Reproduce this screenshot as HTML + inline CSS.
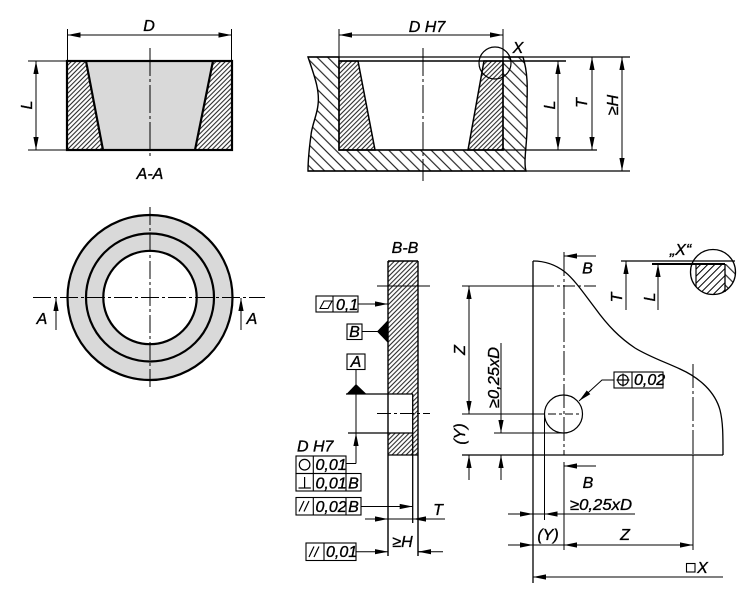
<!DOCTYPE html>
<html><head><meta charset="utf-8"><style>
html,body{margin:0;padding:0;background:#fff;}
svg{display:block;}
text{font-family:"Liberation Sans",sans-serif;font-style:italic;font-size:16px;fill:#000;stroke:#000;stroke-width:0.35px;}
</style></head><body>
<svg width="750" height="597" viewBox="0 0 750 597" xmlns="http://www.w3.org/2000/svg">
<defs>
<marker id="a" markerUnits="userSpaceOnUse" markerWidth="14" markerHeight="6" refX="13" refY="3" orient="auto-start-reverse"><path d="M0,0.4 L13,3 L0,5.6 z" fill="#000"/></marker>
<pattern id="hf" width="3.3" height="10" patternUnits="userSpaceOnUse" patternTransform="rotate(45)"><line x1="1.6" y1="0" x2="1.6" y2="10" stroke="#000" stroke-width="0.9"/></pattern>
<pattern id="hd" width="5" height="10" patternUnits="userSpaceOnUse" patternTransform="rotate(45)"><line x1="2.5" y1="0" x2="2.5" y2="10" stroke="#000" stroke-width="1"/></pattern>
<pattern id="hc" width="7.5" height="10" patternUnits="userSpaceOnUse" patternTransform="rotate(-45)"><line x1="3.7" y1="0" x2="3.7" y2="10" stroke="#000" stroke-width="1"/></pattern>
<clipPath id="cx"><circle cx="713" cy="272" r="22.5"/></clipPath>
</defs>
<g fill="none" stroke="#000" stroke-width="1.2">

<!-- ===== A-A section ===== -->
<polygon points="86,61 213,61 195,150 103,150" fill="#d9d9d9" stroke="none"/>
<polygon points="67,61 86,61 103,150 67,150" fill="url(#hf)" stroke="none"/>
<polygon points="213,61 232,61 232,150 195,150" fill="url(#hf)" stroke="none"/>
<rect x="67" y="61" width="165" height="89" stroke-width="2.2"/>
<line x1="86" y1="61" x2="103" y2="150" stroke-width="2.2"/>
<line x1="213" y1="61" x2="195" y2="150" stroke-width="2.2"/>
<line x1="150" y1="48" x2="150" y2="158" stroke-dasharray="28 3 3 3" stroke-width="1"/>
<line x1="67.5" y1="29" x2="67.5" y2="61" stroke-width="1"/>
<line x1="231.5" y1="29" x2="231.5" y2="61" stroke-width="1"/>
<path d="M67.5,35 H231.5" marker-start="url(#a)" marker-end="url(#a)" stroke-width="1"/>
<line x1="28" y1="61" x2="67" y2="61" stroke-width="1"/>
<line x1="28" y1="150" x2="67" y2="150" stroke-width="1"/>
<path d="M36,61 V150" marker-start="url(#a)" marker-end="url(#a)" stroke-width="1"/>

<!-- ===== circle view ===== -->
<circle cx="150" cy="297.5" r="82.5" fill="#d9d9d9" stroke-width="2.2"/>
<circle cx="150" cy="297.5" r="64" stroke-width="2.2"/>
<circle cx="150" cy="297.5" r="46.7" fill="#fff" stroke-width="2.2"/>
<line x1="33" y1="297.5" x2="265" y2="297.5" stroke-dasharray="18 3 3 3" stroke-width="1"/>
<line x1="150" y1="207" x2="150" y2="388" stroke-dasharray="18 3 3 3" stroke-width="1"/>
<path d="M56,330 V298" marker-end="url(#a)" stroke-width="1"/>
<path d="M241,330 V298" marker-end="url(#a)" stroke-width="1"/>

<!-- ===== housing section (top right) ===== -->
<path d="M308,57 C314,75 320,90 318,105 C317,115 312,125 311,135 C309,150 308,160 308,171 L526,171 C523,160 528,140 527,120 C526,100 530,80 523,57 L503,57 L503,150 L339,150 L339,57 Z" fill="url(#hc)" stroke-width="1.4"/>
<polygon points="339,61 358,61 375,150 339,150" fill="url(#hf)" stroke-width="1.5"/>
<polygon points="484,61 503,61 503,150 468,150" fill="url(#hf)" stroke-width="1.5"/>
<line x1="308" y1="57" x2="630" y2="57" stroke-width="1.3"/>
<line x1="339" y1="61" x2="566" y2="61" stroke-width="1.5"/>
<line x1="339" y1="150" x2="597" y2="150" stroke-width="1.3"/>
<line x1="308" y1="171" x2="630" y2="171" stroke-width="1.3"/>
<line x1="339" y1="29" x2="339" y2="57" stroke-width="1"/>
<line x1="503" y1="29" x2="503" y2="57" stroke-width="1"/>
<path d="M339,35 H503" marker-start="url(#a)" marker-end="url(#a)" stroke-width="1"/>
<line x1="423" y1="48" x2="423" y2="181" stroke-dasharray="28 3 3 3" stroke-width="1"/>
<circle cx="495" cy="63" r="16" stroke-width="1.2"/>
<path d="M558,61 V150" marker-start="url(#a)" marker-end="url(#a)" stroke-width="1"/>
<path d="M592,57 V150" marker-start="url(#a)" marker-end="url(#a)" stroke-width="1"/>
<path d="M622,57 V171" marker-start="url(#a)" marker-end="url(#a)" stroke-width="1"/>

<!-- ===== B-B section ===== -->
<rect x="388" y="261" width="30" height="133" fill="url(#hf)" stroke="none"/>
<rect x="412.7" y="394" width="5.3" height="39" fill="url(#hf)" stroke="none"/>
<rect x="388" y="433" width="30" height="22" fill="url(#hf)" stroke="none"/>
<line x1="388" y1="261" x2="418" y2="261" stroke-width="1.4"/>
<line x1="388" y1="261" x2="388" y2="556" stroke-width="1.4"/>
<line x1="418" y1="261" x2="418" y2="556" stroke-width="1.4"/>
<line x1="412.7" y1="394" x2="412.7" y2="523" stroke-width="1.3"/>
<line x1="346" y1="394" x2="413" y2="394" stroke-width="1.3"/>
<line x1="348" y1="433" x2="413" y2="433" stroke-width="1.3"/>
<line x1="388" y1="455" x2="418" y2="455" stroke-width="1.3"/>
<line x1="377" y1="286" x2="430" y2="286" stroke-width="1"/>
<line x1="377" y1="413.5" x2="430" y2="413.5" stroke-dasharray="14 3 3 3" stroke-width="1"/>
<!-- flatness frame -->
<rect x="316" y="296" width="42" height="16" stroke-width="1.1"/>
<line x1="333" y1="296" x2="333" y2="312" stroke-width="1.1"/>
<polygon points="320,308.5 324,301 332,301 328,308.5" stroke-width="1.1"/>
<path d="M358,304 H388" marker-end="url(#a)" stroke-width="1"/>
<!-- B datum -->
<rect x="347" y="324" width="15" height="15.5" stroke-width="1.1"/>
<line x1="362" y1="331.5" x2="378" y2="331.5" stroke-width="1"/>
<polygon points="388,320 388,343 377,331.5" fill="#000" stroke="none"/>
<!-- A datum -->
<rect x="347" y="354" width="18" height="15.5" stroke-width="1.1"/>
<line x1="356" y1="369.5" x2="356" y2="385" stroke-width="1"/>
<polygon points="346,394.5 367,394.5 356,384" fill="#000" stroke="none"/>
<!-- D H7 leader -->
<path d="M356,463.5 V433" marker-end="url(#a)" stroke-width="1"/>
<line x1="346" y1="463.5" x2="356" y2="463.5" stroke-width="1"/>
<line x1="356" y1="394" x2="356" y2="433" stroke-width="1"/>
<!-- frames -->
<rect x="296" y="456" width="50" height="17.5" stroke-width="1.1"/>
<line x1="313.3" y1="456" x2="313.3" y2="491" stroke-width="1.1"/>
<circle cx="304.6" cy="464.7" r="5.3" stroke-width="1.2"/>
<rect x="296" y="473.5" width="65" height="17.5" stroke-width="1.1"/>
<line x1="346" y1="473.5" x2="346" y2="491" stroke-width="1.1"/>
<line x1="304.6" y1="477" x2="304.6" y2="488" stroke-width="1.2"/>
<line x1="298.5" y1="488" x2="310.8" y2="488" stroke-width="1.2"/>
<rect x="296" y="497.5" width="65" height="17.5" stroke-width="1.1"/>
<line x1="313.3" y1="497.5" x2="313.3" y2="515" stroke-width="1.1"/>
<line x1="346" y1="497.5" x2="346" y2="515" stroke-width="1.1"/>
<line x1="299" y1="511.5" x2="304" y2="501" stroke-width="1.2"/>
<line x1="304" y1="511.5" x2="309" y2="501" stroke-width="1.2"/>
<path d="M361,506.5 H412.7" marker-end="url(#a)" stroke-width="1"/>
<!-- T dim -->
<line x1="365" y1="519" x2="445" y2="519" stroke-width="1"/>
<path d="M375,519 H388" marker-end="url(#a)" stroke-width="1"/>
<path d="M426,519 H413" marker-end="url(#a)" stroke-width="1"/>
<!-- >=H dim -->
<rect x="306" y="543" width="50" height="17.5" stroke-width="1.1"/>
<line x1="324" y1="543" x2="324" y2="560.5" stroke-width="1.1"/>
<line x1="309" y1="557" x2="314" y2="546.5" stroke-width="1.2"/>
<line x1="314" y1="557" x2="319" y2="546.5" stroke-width="1.2"/>
<path d="M356,551.7 H388" marker-end="url(#a)" stroke-width="1"/>
<line x1="418" y1="551.7" x2="443" y2="551.7" stroke-width="1"/>
<path d="M431,551.7 H418" marker-end="url(#a)" stroke-width="1"/>

<!-- ===== right view ===== -->
<line x1="533" y1="261" x2="533" y2="583" stroke-width="1.3"/>
<path d="M533,261 C545,261 556,265 565,272 C575,280 585,295 595,308 C608,326 620,338 635,348 C650,357 665,362 680,369 C700,378 715,392 720,410 C723,422 723,435 723,455" stroke-width="1.3"/>
<line x1="462" y1="455" x2="723" y2="455" stroke-width="1.3"/>
<line x1="564" y1="252" x2="564" y2="455" stroke-dasharray="24 3 3 3" stroke-width="1"/>
<line x1="564" y1="462" x2="564" y2="550" stroke-width="1"/>
<path d="M596,256 H564" marker-end="url(#a)" stroke-width="1"/>
<path d="M596,466 H564" marker-end="url(#a)" stroke-width="1"/>
<line x1="462" y1="286" x2="596" y2="286" stroke-dasharray="92 3 3 3 12 3 3 3" stroke-width="1"/>
<path d="M469,286 V414" marker-start="url(#a)" marker-end="url(#a)" stroke-width="1"/>
<circle cx="563.5" cy="414" r="19" stroke-width="1.2"/>
<line x1="462" y1="414" x2="545" y2="414" stroke-width="1"/>
<line x1="548" y1="414" x2="582" y2="414" stroke-dasharray="8 3 3 3" stroke-width="1"/>
<line x1="494" y1="433" x2="563" y2="433" stroke-width="1"/>
<line x1="544.5" y1="414" x2="544.5" y2="520" stroke-width="1"/>
<path d="M501,343 V433" marker-end="url(#a)" stroke-width="1"/>
<path d="M469,480 V455" marker-end="url(#a)" stroke-width="1"/>
<path d="M501,480 V455" marker-end="url(#a)" stroke-width="1"/>
<line x1="693" y1="364" x2="693" y2="455" stroke-dasharray="24 3 3 3" stroke-width="1"/>
<line x1="693" y1="455" x2="693" y2="550" stroke-width="1"/>
<!-- position frame -->
<rect x="614" y="372" width="49" height="16" stroke-width="1.1"/>
<line x1="632" y1="372" x2="632" y2="388" stroke-width="1.1"/>
<circle cx="623" cy="380" r="5.2" stroke-width="1.2"/>
<line x1="623" y1="373.5" x2="623" y2="386.5" stroke-width="1.2"/>
<line x1="616.5" y1="380" x2="629.5" y2="380" stroke-width="1.2"/>
<path d="M614,380 H602 L579,401" marker-end="url(#a)" stroke-width="1"/>
<!-- bottom dims -->
<line x1="508" y1="514" x2="635" y2="514" stroke-width="1"/>
<path d="M520,514 H533" marker-end="url(#a)" stroke-width="1"/>
<path d="M557,514 H544.5" marker-end="url(#a)" stroke-width="1"/>
<line x1="508" y1="545" x2="693" y2="545" stroke-width="1"/>
<path d="M520,545 H533" marker-end="url(#a)" stroke-width="1"/>
<path d="M564,545 H693" marker-start="url(#a)" marker-end="url(#a)" stroke-width="1"/>
<path d="M723,577 H533" marker-end="url(#a)" stroke-width="1"/>
<rect x="686.5" y="563.5" width="8.5" height="8.5" stroke-width="1.1"/>

<!-- detail X -->
<rect x="696" y="264" width="29" height="40" fill="url(#hd)" stroke="none" clip-path="url(#cx)"/>
<rect x="725" y="264" width="14" height="40" fill="url(#hc)" stroke="none" clip-path="url(#cx)"/>
<line x1="696" y1="264" x2="696" y2="293" stroke-width="1.2" clip-path="url(#cx)"/>
<line x1="725" y1="264" x2="725" y2="292" stroke-width="1.3"/>
<circle cx="713" cy="272" r="22.5" stroke-width="1.3"/>
<line x1="621" y1="261" x2="735" y2="261" stroke-width="1.3"/>
<line x1="652" y1="264" x2="725" y2="264" stroke-width="2"/>
<path d="M626,310 V261" marker-end="url(#a)" stroke-width="1"/>
<path d="M658,310 V264" marker-end="url(#a)" stroke-width="1"/>
</g>

<!-- ===== texts ===== -->
<text x="149" y="31" text-anchor="middle" font-size="17">D</text>
<text transform="translate(32,105) rotate(-90)" text-anchor="middle" font-size="17">L</text>
<text x="150" y="179" text-anchor="middle" font-size="17">A-A</text>
<text x="42" y="324" text-anchor="middle" font-size="17">A</text>
<text x="252" y="324" text-anchor="middle" font-size="17">A</text>

<text x="427" y="32" text-anchor="middle" font-size="17">D H7</text>
<text x="518" y="53" text-anchor="middle" font-size="17">X</text>
<text transform="translate(555,105) rotate(-90)" text-anchor="middle" font-size="17">L</text>
<text transform="translate(587,103) rotate(-90)" text-anchor="middle" font-size="17">T</text>
<text transform="translate(618,105) rotate(-90)" text-anchor="middle" font-size="17">≥H</text>

<text x="405" y="253" text-anchor="middle" font-size="17">B-B</text>
<text x="336" y="310">0,1</text>
<text x="354.5" y="337" text-anchor="middle">B</text>
<text x="356" y="367" text-anchor="middle">A</text>
<text x="297" y="451.5" font-size="17">D H7</text>
<text x="315.5" y="470">0,01</text>
<text x="315.5" y="488.5">0,01</text>
<text x="353.5" y="488.5" text-anchor="middle">B</text>
<text x="315.5" y="512">0,02</text>
<text x="353.5" y="512" text-anchor="middle">B</text>
<text x="438" y="515" text-anchor="middle" font-size="17">T</text>
<text x="402.5" y="547" text-anchor="middle" font-size="17">≥H</text>
<text x="326" y="557">0,01</text>

<text x="587.5" y="273.5" text-anchor="middle" font-size="17">B</text>
<text x="588" y="488" text-anchor="middle" font-size="17">B</text>
<text transform="translate(465,350) rotate(-90)" text-anchor="middle" font-size="17">Z</text>
<text transform="translate(499,377.5) rotate(-90)" text-anchor="middle" font-size="17" textLength="61" lengthAdjust="spacingAndGlyphs">≥0,25xD</text>
<text transform="translate(465,434) rotate(-90)" text-anchor="middle" font-size="17">(Y)</text>
<text x="634" y="385">0,02</text>
<text x="570" y="510" font-size="17" textLength="62" lengthAdjust="spacingAndGlyphs">≥0,25xD</text>
<text x="548" y="540" text-anchor="middle" font-size="17">(Y)</text>
<text x="625" y="540" text-anchor="middle" font-size="17">Z</text>
<text x="702.5" y="573" text-anchor="middle" font-size="17">X</text>
<text x="680.5" y="255" text-anchor="middle" font-size="17">„X“</text>
<text transform="translate(622,297.5) rotate(-90)" text-anchor="middle" font-size="17">T</text>
<text transform="translate(655,297) rotate(-90)" text-anchor="middle" font-size="17">L</text>
</svg>
</body></html>
